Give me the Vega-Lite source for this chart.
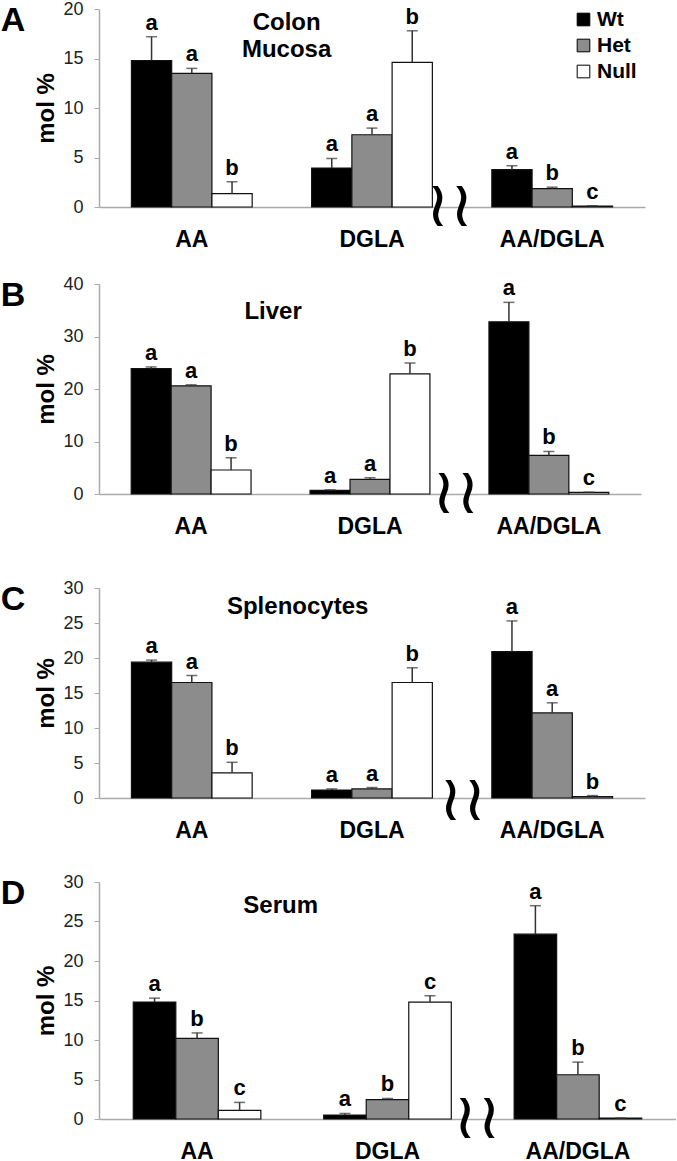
{
  "$schema": "https://vega.github.io/schema/vega-lite/v6.json",
  "padding": 0,
  "spacing": 10,
  "datasets": {
    "d": [
      {"panel": "A", "cat": "AA", "g": "Wt", "v": 14.8, "hi": 17.2, "lab": "a"},
      {"panel": "A", "cat": "AA", "g": "Het", "v": 13.5, "hi": 14.0, "lab": "a"},
      {"panel": "A", "cat": "AA", "g": "Null", "v": 1.35, "hi": 2.55, "lab": "b"},
      {"panel": "A", "cat": "DGLA", "g": "Wt", "v": 3.93, "hi": 4.9, "lab": "a"},
      {"panel": "A", "cat": "DGLA", "g": "Het", "v": 7.3, "hi": 7.97, "lab": "a"},
      {"panel": "A", "cat": "DGLA", "g": "Null", "v": 14.6, "hi": 17.8, "lab": "b"},
      {"panel": "A", "cat": "AA/DGLA", "g": "Wt", "v": 3.77, "hi": 4.17, "lab": "a"},
      {"panel": "A", "cat": "AA/DGLA", "g": "Het", "v": 1.85, "hi": 2.0, "lab": "b"},
      {"panel": "A", "cat": "AA/DGLA", "g": "Null", "v": 0.1, "hi": 0.12, "lab": "c"},
      {"panel": "B", "cat": "AA", "g": "Wt", "v": 23.9, "hi": 24.2, "lab": "a"},
      {"panel": "B", "cat": "AA", "g": "Het", "v": 20.6, "hi": 20.8, "lab": "a"},
      {"panel": "B", "cat": "AA", "g": "Null", "v": 4.57, "hi": 6.9, "lab": "b"},
      {"panel": "B", "cat": "DGLA", "g": "Wt", "v": 0.7, "hi": 0.8, "lab": "a"},
      {"panel": "B", "cat": "DGLA", "g": "Het", "v": 2.8, "hi": 3.1, "lab": "a"},
      {"panel": "B", "cat": "DGLA", "g": "Null", "v": 22.9, "hi": 24.95, "lab": "b"},
      {"panel": "B", "cat": "AA/DGLA", "g": "Wt", "v": 32.8, "hi": 36.5, "lab": "a"},
      {"panel": "B", "cat": "AA/DGLA", "g": "Het", "v": 7.35, "hi": 8.1, "lab": "b"},
      {"panel": "B", "cat": "AA/DGLA", "g": "Null", "v": 0.3, "hi": 0.35, "lab": "c"},
      {"panel": "C", "cat": "AA", "g": "Wt", "v": 19.4, "hi": 19.7, "lab": "a"},
      {"panel": "C", "cat": "AA", "g": "Het", "v": 16.5, "hi": 17.5, "lab": "a"},
      {"panel": "C", "cat": "AA", "g": "Null", "v": 3.6, "hi": 5.1, "lab": "b"},
      {"panel": "C", "cat": "DGLA", "g": "Wt", "v": 1.14, "hi": 1.3, "lab": "a"},
      {"panel": "C", "cat": "DGLA", "g": "Het", "v": 1.3, "hi": 1.5, "lab": "a"},
      {"panel": "C", "cat": "DGLA", "g": "Null", "v": 16.5, "hi": 18.6, "lab": "b"},
      {"panel": "C", "cat": "AA/DGLA", "g": "Wt", "v": 20.9, "hi": 25.3, "lab": "a"},
      {"panel": "C", "cat": "AA/DGLA", "g": "Het", "v": 12.15, "hi": 13.6, "lab": "a"},
      {"panel": "C", "cat": "AA/DGLA", "g": "Null", "v": 0.2, "hi": 0.35, "lab": "b"},
      {"panel": "D", "cat": "AA", "g": "Wt", "v": 14.8, "hi": 15.3, "lab": "a"},
      {"panel": "D", "cat": "AA", "g": "Het", "v": 10.2, "hi": 10.9, "lab": "b"},
      {"panel": "D", "cat": "AA", "g": "Null", "v": 1.1, "hi": 2.1, "lab": "c"},
      {"panel": "D", "cat": "DGLA", "g": "Wt", "v": 0.5, "hi": 0.7, "lab": "a"},
      {"panel": "D", "cat": "DGLA", "g": "Het", "v": 2.45, "hi": 2.6, "lab": "b"},
      {"panel": "D", "cat": "DGLA", "g": "Null", "v": 14.8, "hi": 15.6, "lab": "c"},
      {"panel": "D", "cat": "AA/DGLA", "g": "Wt", "v": 23.4, "hi": 27.0, "lab": "a"},
      {"panel": "D", "cat": "AA/DGLA", "g": "Het", "v": 5.6, "hi": 7.2, "lab": "b"},
      {"panel": "D", "cat": "AA/DGLA", "g": "Null", "v": 0.1, "hi": 0.12, "lab": "c"}
    ]
  },
  "resolve": {
    "scale": {"x": "independent", "y": "independent", "xOffset": "independent", "fill": "independent"},
    "legend": {"fill": "independent"}
  },
  "vconcat": [
    {
      "width": 546, "height": 198,
      "title": {"text": "A"},
      "data": {"name": "d"},
      "transform": [{"filter": "datum.panel === 'A'"}],
      "encoding": {
        "x": {"field": "cat", "type": "nominal", "sort": ["AA", "DGLA", "AA/DGLA"], "scale": {"paddingInner": 0.33, "paddingOuter": 0.18}, "axis": {"title": "\u00a0", "titlePadding": 4}}
      },
      "layer": [
        {
          "mark": {"type": "bar", "stroke": "#111", "strokeWidth": 1.2},
          "encoding": {
            "xOffset": {"field": "g", "sort": ["Wt", "Het", "Null"], "scale": {"paddingInner": 0, "paddingOuter": 0}},
            "y": {"field": "v", "type": "quantitative", "scale": {"domain": [0, 20]}, "axis": {"values": [0, 5, 10, 15, 20], "title": "mol %"}},
            "fill": {"field": "g", "type": "nominal", "sort": ["Wt", "Het", "Null"], "scale": {"domain": ["Wt", "Het", "Null"], "range": ["#000000", "#8c8c8c", "#ffffff"]},
              "legend": {"orient": "none", "legendX": 474, "legendY": 0, "title": null, "symbolType": "square", "symbolSize": 160, "symbolStrokeColor": "#000", "symbolStrokeWidth": 1, "labelFontSize": 21, "labelFontWeight": "bold", "labelFont": "Liberation Sans", "labelColor": "#000", "labelOffset": 3, "rowPadding": 4}}
          }
        },
        {
          "mark": {"type": "rule", "color": "#333", "strokeWidth": 1.5},
          "encoding": {"xOffset": {"field": "g", "sort": ["Wt", "Het", "Null"]}, "y": {"field": "v", "type": "quantitative", "axis": {"values": [0, 5, 10, 15, 20], "title": "mol %"}}, "y2": {"field": "hi"}}
        },
        {
          "mark": {"type": "tick", "color": "#333", "size": 11, "thickness": 1.5, "orient": "horizontal"},
          "encoding": {"xOffset": {"field": "g", "sort": ["Wt", "Het", "Null"]}, "y": {"field": "hi", "type": "quantitative", "axis": {"values": [0, 5, 10, 15, 20], "title": "mol %"}}}
        },
        {
          "mark": {"type": "text", "fontSize": 22, "fontWeight": "bold", "font": "Liberation Sans", "baseline": "alphabetic", "dy": -7, "color": "#000"},
          "encoding": {"xOffset": {"field": "g", "sort": ["Wt", "Het", "Null"]}, "y": {"field": "hi", "type": "quantitative", "axis": {"values": [0, 5, 10, 15, 20], "title": "mol %"}}, "text": {"field": "lab"}}
        },
        {
          "data": {"values": [{"t": "≀≀"}]},
          "mark": {"type": "text", "fontSize": 64, "font": "DejaVu Sans", "baseline": "middle", "dx": -42, "color": "#000"},
          "encoding": {"x": {"datum": "AA/DGLA", "bandPosition": 0}, "y": {"datum": 0, "type": "quantitative", "axis": {"values": [0, 5, 10, 15, 20], "title": "mol %"}}, "text": {"field": "t"}}
        },
        {
          "data": {"values": [{"t": ["Colon", "Mucosa"]}]},
          "mark": {"type": "text", "fontSize": 24, "fontWeight": "bold", "font": "Liberation Sans", "baseline": "alphabetic", "lineHeight": 27, "dx": -25, "color": "#000"},
          "encoding": {"x": {"datum": "DGLA", "bandPosition": 0}, "y": {"datum": 17.9, "type": "quantitative", "axis": {"values": [0, 5, 10, 15, 20], "title": "mol %"}}, "text": {"field": "t"}}
        }
      ]
    },
    {
      "width": 542, "height": 210,
      "title": {"text": "B"},
      "data": {"name": "d"},
      "transform": [{"filter": "datum.panel === 'B'"}],
      "encoding": {
        "x": {"field": "cat", "type": "nominal", "sort": ["AA", "DGLA", "AA/DGLA"], "scale": {"paddingInner": 0.33, "paddingOuter": 0.18}, "axis": {"title": "\u00a0", "titlePadding": 21}}
      },
      "layer": [
        {
          "mark": {"type": "bar", "stroke": "#111", "strokeWidth": 1.2},
          "encoding": {
            "xOffset": {"field": "g", "sort": ["Wt", "Het", "Null"], "scale": {"paddingInner": 0, "paddingOuter": 0}},
            "y": {"field": "v", "type": "quantitative", "scale": {"domain": [0, 40]}, "axis": {"values": [0, 10, 20, 30, 40], "title": "mol %"}},
            "fill": {"field": "g", "type": "nominal", "sort": ["Wt", "Het", "Null"], "scale": {"domain": ["Wt", "Het", "Null"], "range": ["#000000", "#8c8c8c", "#ffffff"]}, "legend": null}
          }
        },
        {
          "mark": {"type": "rule", "color": "#333", "strokeWidth": 1.5},
          "encoding": {"xOffset": {"field": "g", "sort": ["Wt", "Het", "Null"]}, "y": {"field": "v", "type": "quantitative", "axis": {"values": [0, 10, 20, 30, 40], "title": "mol %"}}, "y2": {"field": "hi"}}
        },
        {
          "mark": {"type": "tick", "color": "#333", "size": 11, "thickness": 1.5, "orient": "horizontal"},
          "encoding": {"xOffset": {"field": "g", "sort": ["Wt", "Het", "Null"]}, "y": {"field": "hi", "type": "quantitative", "axis": {"values": [0, 10, 20, 30, 40], "title": "mol %"}}}
        },
        {
          "mark": {"type": "text", "fontSize": 22, "fontWeight": "bold", "font": "Liberation Sans", "baseline": "alphabetic", "dy": -7, "color": "#000"},
          "encoding": {"xOffset": {"field": "g", "sort": ["Wt", "Het", "Null"]}, "y": {"field": "hi", "type": "quantitative", "axis": {"values": [0, 10, 20, 30, 40], "title": "mol %"}}, "text": {"field": "lab"}}
        },
        {
          "data": {"values": [{"t": "≀≀"}]},
          "mark": {"type": "text", "fontSize": 64, "font": "DejaVu Sans", "baseline": "middle", "dx": -33, "color": "#000"},
          "encoding": {"x": {"datum": "AA/DGLA", "bandPosition": 0}, "y": {"datum": 0, "type": "quantitative", "axis": {"values": [0, 10, 20, 30, 40], "title": "mol %"}}, "text": {"field": "t"}}
        },
        {
          "data": {"values": [{"t": "Liver"}]},
          "mark": {"type": "text", "fontSize": 24, "fontWeight": "bold", "font": "Liberation Sans", "baseline": "alphabetic", "dx": -37, "color": "#000"},
          "encoding": {"x": {"datum": "DGLA", "bandPosition": 0}, "y": {"datum": 33.4, "type": "quantitative", "axis": {"values": [0, 10, 20, 30, 40], "title": "mol %"}}, "text": {"field": "t"}}
        }
      ]
    },
    {
      "width": 546, "height": 210,
      "title": {"text": "C"},
      "data": {"name": "d"},
      "transform": [{"filter": "datum.panel === 'C'"}],
      "encoding": {
        "x": {"field": "cat", "type": "nominal", "sort": ["AA", "DGLA", "AA/DGLA"], "scale": {"paddingInner": 0.33, "paddingOuter": 0.18}, "axis": {"title": "\u00a0", "titlePadding": 11}}
      },
      "layer": [
        {
          "mark": {"type": "bar", "stroke": "#111", "strokeWidth": 1.2},
          "encoding": {
            "xOffset": {"field": "g", "sort": ["Wt", "Het", "Null"], "scale": {"paddingInner": 0, "paddingOuter": 0}},
            "y": {"field": "v", "type": "quantitative", "scale": {"domain": [0, 30]}, "axis": {"values": [0, 5, 10, 15, 20, 25, 30], "title": "mol %"}},
            "fill": {"field": "g", "type": "nominal", "sort": ["Wt", "Het", "Null"], "scale": {"domain": ["Wt", "Het", "Null"], "range": ["#000000", "#8c8c8c", "#ffffff"]}, "legend": null}
          }
        },
        {
          "mark": {"type": "rule", "color": "#333", "strokeWidth": 1.5},
          "encoding": {"xOffset": {"field": "g", "sort": ["Wt", "Het", "Null"]}, "y": {"field": "v", "type": "quantitative", "axis": {"values": [0, 5, 10, 15, 20, 25, 30], "title": "mol %"}}, "y2": {"field": "hi"}}
        },
        {
          "mark": {"type": "tick", "color": "#333", "size": 11, "thickness": 1.5, "orient": "horizontal"},
          "encoding": {"xOffset": {"field": "g", "sort": ["Wt", "Het", "Null"]}, "y": {"field": "hi", "type": "quantitative", "axis": {"values": [0, 5, 10, 15, 20, 25, 30], "title": "mol %"}}}
        },
        {
          "mark": {"type": "text", "fontSize": 22, "fontWeight": "bold", "font": "Liberation Sans", "baseline": "alphabetic", "dy": -7, "color": "#000"},
          "encoding": {"xOffset": {"field": "g", "sort": ["Wt", "Het", "Null"]}, "y": {"field": "hi", "type": "quantitative", "axis": {"values": [0, 5, 10, 15, 20, 25, 30], "title": "mol %"}}, "text": {"field": "lab"}}
        },
        {
          "data": {"values": [{"t": "≀≀"}]},
          "mark": {"type": "text", "fontSize": 64, "font": "DejaVu Sans", "baseline": "middle", "dx": -29, "dy": 3, "color": "#000"},
          "encoding": {"x": {"datum": "AA/DGLA", "bandPosition": 0}, "y": {"datum": 0, "type": "quantitative", "axis": {"values": [0, 5, 10, 15, 20, 25, 30], "title": "mol %"}}, "text": {"field": "t"}}
        },
        {
          "data": {"values": [{"t": "Splenocytes"}]},
          "mark": {"type": "text", "fontSize": 24, "fontWeight": "bold", "font": "Liberation Sans", "baseline": "alphabetic", "dx": -14, "color": "#000"},
          "encoding": {"x": {"datum": "DGLA", "bandPosition": 0}, "y": {"datum": 26.3, "type": "quantitative", "axis": {"values": [0, 5, 10, 15, 20, 25, 30], "title": "mol %"}}, "text": {"field": "t"}}
        }
      ]
    },
    {
      "width": 577, "height": 237,
      "title": {"text": "D"},
      "data": {"name": "d"},
      "transform": [{"filter": "datum.panel === 'D'"}],
      "encoding": {
        "x": {"field": "cat", "type": "nominal", "sort": ["AA", "DGLA", "AA/DGLA"], "scale": {"paddingInner": 0.33, "paddingOuter": 0.18}, "axis": {"title": null}}
      },
      "layer": [
        {
          "mark": {"type": "bar", "stroke": "#111", "strokeWidth": 1.2},
          "encoding": {
            "xOffset": {"field": "g", "sort": ["Wt", "Het", "Null"], "scale": {"paddingInner": 0, "paddingOuter": 0}},
            "y": {"field": "v", "type": "quantitative", "scale": {"domain": [0, 30]}, "axis": {"values": [0, 5, 10, 15, 20, 25, 30], "title": "mol %"}},
            "fill": {"field": "g", "type": "nominal", "sort": ["Wt", "Het", "Null"], "scale": {"domain": ["Wt", "Het", "Null"], "range": ["#000000", "#8c8c8c", "#ffffff"]}, "legend": null}
          }
        },
        {
          "mark": {"type": "rule", "color": "#333", "strokeWidth": 1.5},
          "encoding": {"xOffset": {"field": "g", "sort": ["Wt", "Het", "Null"]}, "y": {"field": "v", "type": "quantitative", "axis": {"values": [0, 5, 10, 15, 20, 25, 30], "title": "mol %"}}, "y2": {"field": "hi"}}
        },
        {
          "mark": {"type": "tick", "color": "#333", "size": 11, "thickness": 1.5, "orient": "horizontal"},
          "encoding": {"xOffset": {"field": "g", "sort": ["Wt", "Het", "Null"]}, "y": {"field": "hi", "type": "quantitative", "axis": {"values": [0, 5, 10, 15, 20, 25, 30], "title": "mol %"}}}
        },
        {
          "mark": {"type": "text", "fontSize": 22, "fontWeight": "bold", "font": "Liberation Sans", "baseline": "alphabetic", "dy": -7, "color": "#000"},
          "encoding": {"xOffset": {"field": "g", "sort": ["Wt", "Het", "Null"]}, "y": {"field": "hi", "type": "quantitative", "axis": {"values": [0, 5, 10, 15, 20, 25, 30], "title": "mol %"}}, "text": {"field": "lab"}}
        },
        {
          "data": {"values": [{"t": "≀≀"}]},
          "mark": {"type": "text", "fontSize": 64, "font": "DejaVu Sans", "baseline": "middle", "dx": -37, "color": "#000"},
          "encoding": {"x": {"datum": "AA/DGLA", "bandPosition": 0}, "y": {"datum": 0, "type": "quantitative", "axis": {"values": [0, 5, 10, 15, 20, 25, 30], "title": "mol %"}}, "text": {"field": "t"}}
        },
        {
          "data": {"values": [{"t": "Serum"}]},
          "mark": {"type": "text", "fontSize": 24, "fontWeight": "bold", "font": "Liberation Sans", "baseline": "alphabetic", "dx": -43, "color": "#000"},
          "encoding": {"x": {"datum": "DGLA", "bandPosition": 0}, "y": {"datum": 26.1, "type": "quantitative", "axis": {"values": [0, 5, 10, 15, 20, 25, 30], "title": "mol %"}}, "text": {"field": "t"}}
        }
      ]
    }
  ],
  "config": {
    "view": {"stroke": null},
    "font": "Liberation Sans",
    "axis": {"grid": false, "domainColor": "#aaaaaa", "domainWidth": 1.5, "tickColor": "#aaaaaa", "labelFont": "Liberation Sans", "titleFont": "Liberation Sans"},
    "axisY": {"labelFontSize": 18, "labelColor": "#222222", "tickSize": 5, "labelPadding": 11, "labelOverlap": false, "labelFlush": false, "titleFontSize": 24, "titleFontWeight": "bold", "titleColor": "#000000", "titlePadding": 4},
    "axisX": {"labelFontSize": 23, "labelFontWeight": "bold", "labelColor": "#000000", "ticks": false, "tickSize": 0, "labelPadding": 21, "labelAngle": 0, "titleFontSize": 10, "titleColor": "#ffffff"},
    "title": {"fontSize": 34, "fontWeight": "bold", "orient": "left", "anchor": "end", "angle": 0, "align": "right", "baseline": "alphabetic", "dy": 4, "offset": -15, "color": "#000000", "font": "Liberation Sans"}
  }
}
